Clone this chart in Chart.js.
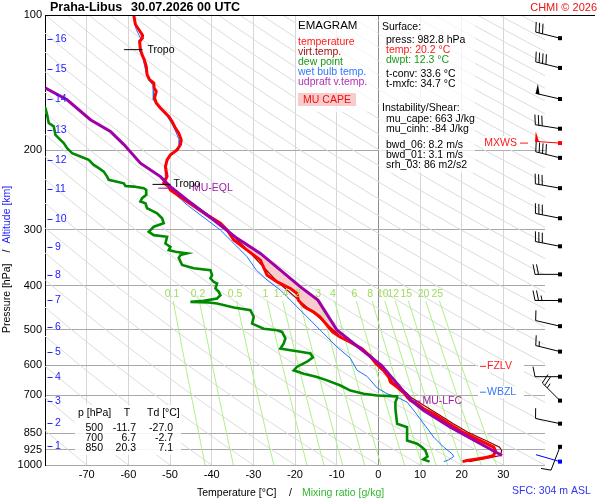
<!DOCTYPE html>
<html>
<head>
<meta charset="utf-8">
<script src="https://cdn.jsdelivr.net/npm/chart.js@4.4.1/dist/chart.umd.min.js"></script>
<style>
html,body{margin:0;padding:0;background:#ffffff;}
canvas{display:block;}
</style>
</head>
<body>
<canvas id="c" width="600" height="500" style="width:600px;height:500px"></canvas>
<script>
const FONT = '"Liberation Sans", Arial, Helvetica, sans-serif';

// ---------- axes / ticks ----------
const pressureTicks = [100, 200, 300, 400, 500, 600, 700, 850, 925, 1000];
const tempMin = -80, tempMax = 40;

// ---------- temperature profile ----------
const tempP = [100,105,107.7,110.5,112.4,114.4,119.4,122.4,125.6,130,135.7,139.2,141.6,145.3,147.8,152.9,156.9,161,165.2,168.1,172.4,178.4,183,189.4,194.3,199.4,204.5,209.9,217.2,228.6,236.1,240.6,244.7,259.8,278.2,290.3,300.5,316.2,333,350.5,378.5,391.7,405.2,415.7,430.2,445.3,456.8,468.7,489.1,506.2,519.4,532.9,551.2,570.4,595.2,616,637.7,654.3,671.3,694.4,706.6,718.6,730.9,749.9,769.3,809.8,845.5,882.3,913.1,928.7,952.8,961.2,969.1,977.2,982.8];
const tempT = [-58.7,-58.3,-57.5,-56.7,-56.6,-57.3,-57.1,-56.7,-56.2,-55.7,-55.5,-54.9,-53.9,-53.8,-53.3,-53.7,-53.3,-52.3,-51.1,-50.3,-49.5,-48.7,-47.9,-47.3,-47.5,-48.3,-49.9,-50.7,-51.1,-50.7,-51.5,-50.3,-49.9,-45.9,-41.1,-37.9,-36.3,-34.7,-31.5,-28.3,-26.7,-24.3,-21.1,-19.5,-19.2,-17.8,-15.6,-14.0,-12.3,-11.0,-9.2,-6.8,-4.0,-2.2,-0.5,1.2,2.5,2.9,4.5,6.3,6.9,7.7,9.3,10.9,13.3,17.0,20.3,24.5,27.7,28.1,27.7,26.1,23.7,21.3,20.2];

// ---------- virtual temperature ----------
const virtP = [244.7,290.3,333,391.7,430.2,489.1,519.4,570.4,616,654.3,694.4,706.6,730.9,769.3,809.8,845.5,882.3,913.1,928.7,952.8,969.1,982.8];
const virtT = [-49.8,-37.8,-31.4,-24.2,-19.1,-12.1,-8.9,-1.9,1.7,3.4,7.0,7.7,10.3,14.2,18.0,21.5,25.8,29.1,29.6,29.3,25.3,21.8];

// ---------- dew point ----------
const dewP = [150,161.0,166.6,173.8,176.8,184.6,189.4,192.6,197.6,202.7,206.2,209.9,215.3,219.0,222.8,228.6,232.5,234.6,236.6,239.8,240.6,242.6,244.7,251.0,255.3,259.8,262.0,268.8,271.1,275.8,283.0,290.3,295.5,303.2,308.5,311.1,322.0,327.5,333.0,335.9,338.7,341.6,346.5,359.3,365.4,368.9,378.5,384.8,391.7,394.9,405.2,412.3,419.4,426.6,431.8,434.0,435.3,437.6,446.6,452.8,468.7,485.0,497.8,502.0,506.2,514.7,523.4,537.0,551.2,555.8,560.4,565.1,576.6,589.6,604.7,616.0,626.6,637.7,648.6,665.7,683.2,694.4,700.5,703.8,709.9,724.7,749.9,809.6,824.0,882.3,896.9,913.1,928.7,957.5,972.0,982.8];
const dewT = [-84.0,-79.9,-79.5,-79.1,-77.9,-77.5,-76.3,-75.5,-74.7,-73.5,-71.5,-69.5,-68.3,-67.1,-65.9,-65.1,-64.7,-62.7,-61.1,-60.7,-58.7,-56.3,-55.7,-55.7,-56.7,-57.1,-55.9,-55.5,-54.7,-53.1,-51.9,-51.5,-53.9,-55.1,-53.9,-50.7,-51.1,-49.9,-50.3,-48.7,-45.9,-47.5,-47.9,-47.1,-44.3,-40.3,-39.9,-40.3,-39.5,-38.7,-39.1,-38.3,-37.9,-38.7,-41.9,-45.1,-40.7,-38.7,-34.7,-30.7,-29.9,-30.3,-27.5,-24.3,-23.1,-22.7,-22.3,-22.7,-23.5,-21.1,-18.7,-16.3,-15.7,-17.1,-19.5,-20.3,-17.9,-14.7,-12.3,-9.1,-6.7,-3.5,-0.3,4.5,4.5,4.1,4.1,4.5,6.9,6.9,9.3,10.5,11.3,11.8,10.8,12.3];

// ---------- wet bulb ----------
const wetP = [100,107.7,113.4,119.4,125.6,132.2,139.2,143.6,154.3,160.7,168.3,178.1,189.4,195.3,204.5,216.4,228.6,236.1,244.7,264.2,285.4,300.5,321.7,344.5,368.9,388.2,408.7,430.2,445.3,468.7,493.4,519.4,546.8,579.2,616.0,635.4,674.0,694.4,706.6,724.9,756.4,809.6,867.3,913.1,944.3,957.5,973.7,982.8];
const wetT = [-58.8,-58.1,-56.9,-57.4,-56.4,-55.9,-55.2,-54.0,-54.0,-52.6,-50.6,-49.0,-47.8,-47.8,-49.9,-51.1,-51.1,-51.6,-49.9,-45.9,-41.1,-37.9,-34.7,-31.5,-29.3,-26.7,-23.5,-21.1,-19.5,-17.1,-14.7,-12.3,-9.9,-6.7,-5.1,-2.7,-0.3,2.1,4.5,6.9,8.5,10.9,13.3,15.7,17.7,18.1,16.9,15.7];

// ---------- MU parcel (updraft virtual temperature) ----------
const parcelP = [145.3,154.3,170.9,181.5,194.3,213.5,228.6,240.6,257.5,285.4,313.5,338.7,368.9,401.9,430.2,501.8,601,721.4,756.4,823.9,896.9,952.8];
const parcelT = [-79.9,-74.7,-69.1,-64.3,-61.0,-57.1,-52.3,-49.9,-45.9,-39.5,-33.9,-28.3,-23.5,-18.7,-14.5,-9.9,0.8,8.1,10.9,17.3,24.5,29.7];
const capeTopP = 240, capeBaseP = 722;

// ---------- background reference lines ----------
const thetaLines = []; // dry adiabats, potential temperature in °C
for (let th = -80; th <= 330; th += 10) thetaLines.push(th);
const adiabatLevels = [100,115,130,150,175,200,250,300,400,500,600,700,800,900,1000];
const mixRatios = [0.1, 0.2, 0.5, 1, 1.4, 2, 3, 4, 6, 8, 10, 12, 15, 20, 25];
const mixLabels = ['0.1','0.2','0.5','1','1.4','2','3','4','6','8','10','12','15','20','25'];
const mixLevels = [432, 500, 600, 700, 800, 900, 1000];
const mixLabelP = 417;

// ---------- altitude labels ----------
const kmLabels = [1,2,3,4,5,6,7,8,9,10,11,12,13,14,15,16];
const kmP = [909.6,808.1,722.2,638.6,561.7,494.0,430.2,378.4,327.9,284.0,243.4,209.8,179.9,153.5,131.6,112.8];

// ---------- wind barbs ----------
const barbP   = [112.6,131.1,153.7,178.9,207.7,242.6,282.9,326.6,377.0,430.9,491.5,559.7,636.4,719.4,809.3,911.1];
const barbDir = [284,284,283,279,284,280,281,281,270,270,283,284,270,315,282,201];
const barbSpd = [30,40,50,30,40,30,30,30,20,25,10,15,10,25,10,10];
const mxwsP = 192.6, mxwsDir = 274, mxwsSpd = 50;
const sfcP = 982.8, sfcDir = 286, sfcSpd = 2;

// ---------- levels ----------
const tropoP = [119.4, 237.9];
const eqlP = 242.6, lfcP = 721.4, fzlvP = 603.6, wbzlP = 689;

// ---------- texts ----------
const tableRows = [['500','-11.7','-27.0'],['700','6.7','-2.7'],['850','20.3','7.1']];

function tdFromW(w, p) {
  const e = w * p / (622 + w);
  const a = Math.log(e / 6.112);
  return 243.5 * a / (17.67 - a);
}
const toPts = (P, T) => P.map((p, i) => ({x: T[i], y: p}));

const datasets = [];
thetaLines.forEach(th => datasets.push({
  data: adiabatLevels.map(p => ({x: (th + 273.15) * Math.pow(p / 1000, 0.2857) - 273.15, y: p})),
  borderColor: '#dcdcdc', borderWidth: 1, showLine: true, pointRadius: 0, order: 100
}));
mixRatios.forEach(w => datasets.push({
  data: mixLevels.map(p => ({x: tdFromW(w, p), y: p})),
  borderColor: '#b0f088', borderWidth: 1, showLine: true, pointRadius: 0, order: 90
}));
datasets.push({data: toPts(virtP, virtT), borderColor: '#8b0000', borderWidth: 1.2, showLine: true, pointRadius: 0, order: 70});
datasets.push({data: toPts(wetP, wetT), borderColor: '#1f6fff', borderWidth: 1, showLine: true, pointRadius: 0, order: 60});
datasets.push({data: toPts(dewP, dewT), borderColor: '#008a00', borderWidth: 2.6, showLine: true, pointRadius: 0, order: 50});
datasets.push({data: toPts(tempP, tempT), borderColor: '#ff0000', borderWidth: 3, showLine: true, pointRadius: 0, order: 40});
datasets.push({data: toPts(parcelP, parcelT), borderColor: '#a000a8', borderWidth: 3, showLine: true, pointRadius: 0, order: 30});

function txt(ctx, s, x, y, color, size, align, weight) {
  ctx.font = (weight || '') + ' ' + size + 'px ' + FONT;
  ctx.fillStyle = color;
  ctx.textAlign = align || 'left';
  ctx.textBaseline = 'middle';
  ctx.fillText(s, x, y);
}
function line(ctx, x1, y1, x2, y2, color, w) {
  ctx.strokeStyle = color; ctx.lineWidth = w || 1;
  ctx.beginPath(); ctx.moveTo(x1, y1); ctx.lineTo(x2, y2); ctx.stroke();
}
function drawBarb(ctx, x0, y0, dir, spd, color) {
  const r = dir * Math.PI / 180;
  const ux = Math.sin(r), uy = -Math.cos(r);
  const fx = -uy, fy = ux;
  const L = 25;
  const tx = x0 + ux * L, ty = y0 + uy * L;
  ctx.strokeStyle = color; ctx.fillStyle = color; ctx.lineWidth = 1;
  ctx.beginPath(); ctx.moveTo(x0, y0); ctx.lineTo(tx, ty); ctx.stroke();
  ctx.fillRect(x0 - 2, y0 - 2, 4, 4);
  let s = Math.round(spd / 5) * 5, pos = 0;
  while (s >= 50) {
    const bx = tx - ux * pos, by = ty - uy * pos;
    ctx.beginPath(); ctx.moveTo(bx, by); ctx.lineTo(bx + fx * 10, by + fy * 10);
    ctx.lineTo(bx - ux * 4, by - uy * 4); ctx.closePath(); ctx.fill();
    pos += 5; s -= 50;
  }
  while (s >= 10) {
    const bx = tx - ux * pos, by = ty - uy * pos;
    ctx.beginPath(); ctx.moveTo(bx, by); ctx.lineTo(bx + fx * 10 + ux * 2, by + fy * 10 + uy * 2); ctx.stroke();
    pos += 3.5; s -= 10;
  }
  if (s >= 5) {
    if (pos === 0) pos = 3.5;
    const bx = tx - ux * pos, by = ty - uy * pos;
    ctx.beginPath(); ctx.moveTo(bx, by); ctx.lineTo(bx + fx * 5 + ux, by + fy * 5 + uy); ctx.stroke();
  }
}

const bgPlugin = {
  id: 'bg',
  beforeDraw(chart) {
    const ctx = chart.ctx;
    ctx.save(); ctx.fillStyle = '#ffffff'; ctx.fillRect(0, 0, chart.width, chart.height); ctx.restore();
  },
  beforeDatasetsDraw(chart) {
    const {ctx, chartArea: a, scales: {x, y}} = chart;
    const up = parcelP.map((p, i) => [parcelT[i], p]).filter(d => d[1] >= capeTopP && d[1] <= capeBaseP);
    const env = tempP.map((p, i) => [tempT[i], p]).filter(d => d[1] >= capeTopP && d[1] <= capeBaseP).reverse();
    ctx.save();
    ctx.beginPath(); ctx.rect(a.left, a.top, a.right - a.left, a.bottom - a.top); ctx.clip();
    ctx.beginPath();
    up.concat(env).forEach((d, i) => {
      const px = x.getPixelForValue(d[0]), py = y.getPixelForValue(d[1]);
      if (i) ctx.lineTo(px, py); else ctx.moveTo(px, py);
    });
    ctx.closePath();
    ctx.fillStyle = '#f9cccc';
    ctx.fill();
    ctx.restore();
  }
};

const overlayPlugin = {
  id: 'overlay',
  afterDraw(chart) {
    const {ctx, chartArea: a, scales: {x, y}} = chart;
    const X = t => x.getPixelForValue(t), Y = p => y.getPixelForValue(p);
    ctx.save();

    // frame top line
    line(ctx, a.left, a.top + 0.5, 595, a.top + 0.5, '#000', 1);

    // legend / info panels
    ctx.fillStyle = 'rgba(255,255,255,0.7)';
    ctx.fillRect(296, 16, 81, 96);
    ctx.fillRect(379, 16, 96, 157);
    txt(ctx, 'EMAGRAM', 298, 26, '#000', 11.5);
    txt(ctx, 'temperature', 298, 42, '#ff1a1a', 10.5);
    txt(ctx, 'virt.temp.', 298, 52, '#a01010', 10.5);
    txt(ctx, 'dew point', 298, 62, '#1a9a1a', 10.5);
    txt(ctx, 'wet bulb temp.', 298, 72, '#3377ff', 10.5);
    txt(ctx, 'udpraft v.temp.', 298, 82, '#b030b8', 10.5);
    ctx.fillStyle = 'rgba(245,160,160,0.55)';
    ctx.fillRect(298, 93, 58, 13);
    txt(ctx, 'MU CAPE', 327, 100.5, '#ee1111', 10.5, 'center');

    txt(ctx, 'Surface:', 382, 27.5, '#000', 10.5);
    txt(ctx, 'press: 982.8 hPa', 386, 40, '#000', 10.5);
    txt(ctx, 'temp: 20.2 °C', 386, 50, '#ff1a1a', 10.5);
    txt(ctx, 'dwpt: 12.3 °C', 386, 60, '#1a9a1a', 10.5);
    txt(ctx, 't-conv: 33.6 °C', 386, 74, '#000', 10.5);
    txt(ctx, 't-mxfc: 34.7 °C', 386, 84, '#000', 10.5);
    txt(ctx, 'Instability/Shear:', 382, 108, '#000', 10.5);
    txt(ctx, 'mu_cape: 663 J/kg', 386, 119.5, '#000', 10.5);
    txt(ctx, 'mu_cinh: -84 J/kg', 386, 129.5, '#000', 10.5);
    txt(ctx, 'bwd_06: 8.2 m/s', 386, 145, '#000', 10.5);
    txt(ctx, 'bwd_01: 3.1 m/s', 386, 155, '#000', 10.5);
    txt(ctx, 'srh_03: 86 m2/s2', 386, 165, '#000', 10.5);

    // p / T / Td table
    ctx.fillStyle = 'rgba(255,255,255,0.88)';
    ctx.fillRect(75, 405, 106, 50);
    txt(ctx, 'p [hPa]', 78, 413, '#000', 10.5);
    txt(ctx, 'T', 127, 413, '#000', 10.5, 'center');
    txt(ctx, 'Td [°C]', 147, 413, '#000', 10.5);
    tableRows.forEach((r, i) => {
      const yy = 428.3 + i * 10;
      txt(ctx, r[0], 103, yy, '#000', 10.5, 'right');
      txt(ctx, r[1], 136, yy, '#000', 10.5, 'right');
      txt(ctx, r[2], 173, yy, '#000', 10.5, 'right');
    });

    // mixing ratio labels
    mixRatios.forEach((w, i) => {
      txt(ctx, mixLabels[i], X(tdFromW(w, mixLabelP)), Y(mixLabelP), '#9edc5c', 10.5, 'center');
    });

    // altitude labels
    kmLabels.forEach((k, i) => {
      const yy = Math.round(Y(kmP[i])) + 0.5;
      line(ctx, 47.5, yy, 52.5, yy, '#2222ff', 1);
      txt(ctx, String(k), 55, yy, '#2222ff', 10.5);
    });

    // tropopause marks
    let yy = Y(tropoP[0]);
    line(ctx, X(-61.0), yy, X(-56.6), yy, '#000', 1);
    txt(ctx, 'Tropo', X(-56.6) + 5, yy, '#000', 10.5);
    yy = Y(eqlP);
    line(ctx, X(-52.8), yy, X(-49.2), yy, '#a000a8', 1);
    txt(ctx, 'MU-EQL', 192, yy, '#a020a8', 10.5);
    yy = Y(tropoP[1]);
    line(ctx, X(-54.2), yy, X(-49.9), yy, '#000', 1);
    txt(ctx, 'Tropo', X(-49.9) + 3, yy, '#000', 10.5);
    yy = Y(lfcP);
    line(ctx, X(8.2), yy, X(10.1), yy, '#a000a8', 1);
    txt(ctx, 'MU-LFC', X(10.1) + 2, yy, '#a020a8', 10.5);

    // FZLV / WBZL / MXWS
    yy = Y(fzlvP);
    ctx.fillStyle = '#fff'; ctx.fillRect(478, yy - 6, 46, 12);
    line(ctx, 480, yy, 486, yy, '#ff1a1a', 1);
    txt(ctx, 'FZLV', 487, yy, '#ff1a1a', 10.5);
    yy = Y(wbzlP);
    ctx.fillStyle = '#fff'; ctx.fillRect(478, yy - 6, 46, 12);
    line(ctx, 480, yy, 486, yy, '#3377ff', 1);
    txt(ctx, 'WBZL', 487, yy, '#3377ff', 10.5);
    yy = Y(mxwsP);
    ctx.fillStyle = '#fff'; ctx.fillRect(484, yy - 7, 46, 14);
    txt(ctx, 'MXWS', 517, yy, '#ff1a1a', 10.5, 'right');
    line(ctx, 520, yy, 528, yy, '#ff1a1a', 1);

    // wind barbs
    barbP.forEach((p, i) => drawBarb(ctx, 560, Y(p), barbDir[i], barbSpd[i], '#000'));
    drawBarb(ctx, 560, Y(mxwsP), mxwsDir, mxwsSpd, '#ff0000');
    drawBarb(ctx, 560, Y(sfcP), sfcDir, sfcSpd, '#0000ff');

    // titles
    txt(ctx, 'Praha-Libus', 50, 7.5, '#000', 12.5, 'left', 'bold');
    txt(ctx, '30.07.2026 00 UTC', 131, 7.5, '#000', 12.5, 'left', 'bold');
    txt(ctx, 'CHMI © 2026', 597, 7.5, '#ee1111', 11, 'right');

    // x axis title
    txt(ctx, 'Temperature [°C]', 197, 493, '#000', 10.5);
    txt(ctx, '/', 289, 493, '#000', 10.5);
    txt(ctx, 'Mixing ratio [g/kg]', 302, 493, '#33b833', 10.5);
    txt(ctx, 'SFC: 304 m ASL', 512, 491.5, '#3333ee', 10.5);

    // y axis title
    ctx.save();
    ctx.translate(7.5, 333);
    ctx.rotate(-Math.PI / 2);
    txt(ctx, 'Pressure [hPa]', 0, 0, '#000', 10.5);
    const w1 = ctx.measureText('Pressure [hPa]').width;
    txt(ctx, '/', w1 + 11, 0, '#000', 10.5);
    txt(ctx, 'Altitude [km]', w1 + 20, 0, '#2222ff', 10.5);
    ctx.restore();

    ctx.restore();
  }
};

Chart.defaults.font.family = FONT;
new Chart(document.getElementById('c'), {
  type: 'scatter',
  data: {datasets: datasets},
  options: {
    responsive: false,
    animation: false,
    devicePixelRatio: 1,
    layout: {padding: {top: 15, right: 55, left: 0, bottom: 0}},
    plugins: {legend: {display: false}, tooltip: {enabled: false}, title: {display: false}},
    elements: {point: {radius: 0}, line: {tension: 0}},
    scales: {
      x: {
        type: 'linear', min: tempMin, max: tempMax, position: 'bottom',
        afterFit(s) { s.height = 35; },
        ticks: {stepSize: 10, autoSkip: false, maxRotation: 0, padding: 3, color: '#000',
          font: {family: FONT, size: 11},
          callback: v => (v > tempMin && v < tempMax) ? String(v) : ''},
        grid: {drawTicks: false, lineWidth: 1,
          color: c => (!c.tick) ? '#d6d6d6' : (c.tick.value === 0 ? '#8c8c8c' :
            ((c.tick.value <= tempMin || c.tick.value >= tempMax) ? 'rgba(0,0,0,0)' : '#d6d6d6'))},
        border: {display: false}
      },
      y: {
        type: 'logarithmic', min: 100, max: 1000, reverse: true,
        afterFit(s) { s.width = 45; },
        afterBuildTicks(s) { s.ticks = pressureTicks.map(v => ({value: v})); },
        ticks: {autoSkip: false, padding: 3, color: '#000', font: {family: FONT, size: 11},
          callback: v => String(v)},
        grid: {drawTicks: false, color: '#a8a8a8', lineWidth: 1},
        border: {display: true, color: '#000', width: 1}
      }
    }
  },
  plugins: [bgPlugin, overlayPlugin]
});
</script>
</body>
</html>
